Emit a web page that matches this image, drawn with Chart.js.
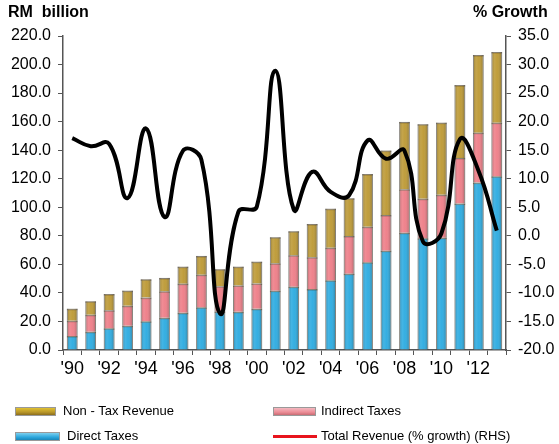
<!DOCTYPE html>
<html lang="en">
<head>
    <meta charset="UTF-8">
    <title>Federal Government Revenue</title>
    <style>
        body {
            margin: 0;
            background: #fff;
            font-family: 'Liberation Sans', Arial, sans-serif;
            color: #000;
        }
        .wrap {
            position: relative;
            width: 559px;
            height: 444px;
        }
        .axis-title {
            position: absolute;
            top: 3px;
            font-weight: bold;
            font-size: 16px;
            white-space: pre;
        }
        .legend-item {
            position: absolute;
            font-size: 13px;
            line-height: 16px;
            white-space: pre;
        }
        .swatch {
            position: absolute;
            height: 9px;
            border: 1px solid #999;
            box-sizing: border-box;
        }
    </style>
    <script src="https://cdn.jsdelivr.net/npm/chart.js"></script>
</head>
<body>
    <div class="wrap">
        <canvas id="revChart" width="559" height="444"></canvas>
        <div class="axis-title" style="left:8px;">RM  billion</div>
        <div class="axis-title" style="left:473px;">% Growth</div>

        <div class="swatch" style="left:15px; top:407px; width:41px; background:linear-gradient(#e0c030,#b8962a 60%,#8c6e1c);"></div>
        <div class="legend-item" style="left:63px; top:403px;">Non - Tax Revenue</div>
        <div class="swatch" style="left:273px; top:407px; width:43px; background:linear-gradient(#f4b8c0,#ec8c96 60%,#c86c74);"></div>
        <div class="legend-item" style="left:321px; top:403px;">Indirect Taxes</div>
        <div class="swatch" style="left:15px; top:432px; width:45px; background:linear-gradient(#7ccfee,#2aa6dc 60%,#1a86b8);"></div>
        <div class="legend-item" style="left:67px; top:428px;">Direct Taxes</div>
        <div style="position:absolute; left:273px; top:435px; width:44px; height:3px; background:#e8141c;"></div>
        <div class="legend-item" style="left:321px; top:428px;">Total Revenue (% growth) (RHS)</div>
    </div>

    <script>
        // years 1990 - 2013
        const years = ["'90", "'91", "'92", "'93", "'94", "'95", "'96", "'97", "'98", "'99", "'00", "'01",
                       "'02", "'03", "'04", "'05", "'06", "'07", "'08", "'09", "'10", "'11", "'12", "'13"];

        // RM billion
        const directTaxes = [9.8, 12.8, 15.2, 17.0, 20.1, 22.6, 26.1, 29.9, 27.0, 26.8, 28.9, 41.6,
                             44.4, 42.7, 48.8, 53.5, 61.5, 69.6, 82.2, 78.3, 78.7, 102.6, 117.3, 121.7];
        const indirectTaxes = [10.7, 11.9, 12.6, 14.0, 16.6, 18.5, 20.4, 22.9, 17.6, 18.4, 17.7, 19.1,
                               22.0, 22.3, 22.9, 26.4, 24.9, 25.0, 30.4, 27.7, 30.1, 32.0, 35.0, 37.6];
        const nonTaxRevenue = [8.4, 9.4, 11.4, 10.6, 12.8, 9.4, 11.9, 13.1, 12.0, 13.2, 15.3, 18.3,
                               16.8, 23.3, 27.3, 26.4, 36.9, 45.1, 47.2, 52.2, 50.5, 51.0, 54.4, 49.5];

        // % growth (right axis)
        const revenueGrowth = [17.1, 15.7, 16.1, 6.6, 18.8, 3.3, 14.9, 13.3, -13.6, 4.2, 5.1, 28.9,
                               4.6, 11.2, 7.7, 7.1, 16.7, 13.5, 14.9, -1.0, 0.4, 16.9, 11.5, 0.9];

        const fontFamily = "'Liberation Sans', Arial, sans-serif";
        const axisColor = '#555';

        // gives the bars a rounded "cylinder" shading like the original
        const barShading = {
            id: 'barShading',
            afterDatasetDraw(chart, args) {
                if (args.meta.type !== 'bar') return;
                const c = chart.ctx;
                c.save();
                args.meta.data.forEach(bar => {
                    const p = bar.getProps(['x', 'y', 'base', 'width'], true);
                    const left = p.x - p.width / 2;
                    const g = c.createLinearGradient(left, 0, left + p.width, 0);
                    g.addColorStop(0, 'rgba(0,0,0,0.28)');
                    g.addColorStop(0.3, 'rgba(255,255,255,0.12)');
                    g.addColorStop(0.55, 'rgba(255,255,255,0.05)');
                    g.addColorStop(1, 'rgba(0,0,0,0.3)');
                    c.fillStyle = g;
                    c.fillRect(left, Math.min(p.y, p.base), p.width, Math.abs(p.base - p.y));
                    // darker rim at the top of each segment
                    c.fillStyle = 'rgba(60,45,20,0.35)';
                    c.fillRect(left, p.y, p.width, 1.5);
                });
                c.restore();
            }
        };

        const barCommon = {
            type: 'bar',
            yAxisID: 'y',
            order: 1,
            stack: 'rev',
            barPercentage: 0.58,
            categoryPercentage: 1.0,
            borderWidth: 1,
            borderColor: 'rgba(90, 80, 60, 0.5)'
        };

        const ctx = document.getElementById('revChart').getContext('2d');
        new Chart(ctx, {
            data: {
                labels: years,
                datasets: [
                    Object.assign({}, barCommon, {
                        label: 'Direct Taxes',
                        data: directTaxes,
                        backgroundColor: '#2aaae0'
                    }),
                    Object.assign({}, barCommon, {
                        label: 'Indirect Taxes',
                        data: indirectTaxes,
                        backgroundColor: '#ee7c86'
                    }),
                    Object.assign({}, barCommon, {
                        label: 'Non - Tax Revenue',
                        data: nonTaxRevenue,
                        backgroundColor: '#bc9832'
                    }),
                    {
                        type: 'line',
                        label: 'Total Revenue (% growth) (RHS)',
                        data: revenueGrowth,
                        yAxisID: 'y1',
                        order: 0,
                        borderColor: '#000',
                        borderWidth: 4,
                        tension: 0.45,
                        pointRadius: 0,
                        fill: false
                    }
                ]
            },
            options: {
                responsive: false,
                animation: false,
                layout: {
                    padding: { left: 0, right: 0, top: 36, bottom: 64 }
                },
                plugins: {
                    legend: { display: false },
                    tooltip: { enabled: false }
                },
                scales: {
                    x: {
                        stacked: true,
                        offset: true,
                        grid: {
                            offset: true,
                            drawOnChartArea: false,
                            drawTicks: true,
                            tickLength: 5,
                            color: axisColor
                        },
                        border: { display: true, color: axisColor, width: 1.5 },
                        ticks: {
                            autoSkip: false,
                            maxRotation: 0,
                            padding: 3,
                            color: '#000',
                            font: { family: fontFamily, size: 18 },
                            callback: function (value, index) {
                                return index % 2 === 0 ? this.getLabelForValue(value) : '';
                            }
                        },
                        afterFit: s => { s.height = 30; }
                    },
                    y: {
                        position: 'left',
                        stacked: true,
                        min: 0,
                        max: 220,
                        grid: {
                            drawOnChartArea: false,
                            drawTicks: true,
                            tickLength: 5,
                            color: axisColor
                        },
                        border: { display: true, color: axisColor, width: 1.5 },
                        ticks: {
                            stepSize: 20,
                            padding: 7,
                            color: '#000',
                            font: { family: fontFamily, size: 16 },
                            callback: v => v.toFixed(1)
                        },
                        afterFit: s => { s.width = 63; }
                    },
                    y1: {
                        position: 'right',
                        min: -20,
                        max: 35,
                        grid: {
                            drawOnChartArea: false,
                            drawTicks: true,
                            tickLength: 5,
                            color: axisColor
                        },
                        border: { display: true, color: axisColor, width: 1.5 },
                        ticks: {
                            stepSize: 5,
                            padding: 7,
                            color: '#000',
                            font: { family: fontFamily, size: 16 },
                            callback: v => v.toFixed(1)
                        },
                        afterFit: s => { s.width = 53; }
                    }
                }
            },
            plugins: [barShading]
        });
    </script>
</body>
</html>
